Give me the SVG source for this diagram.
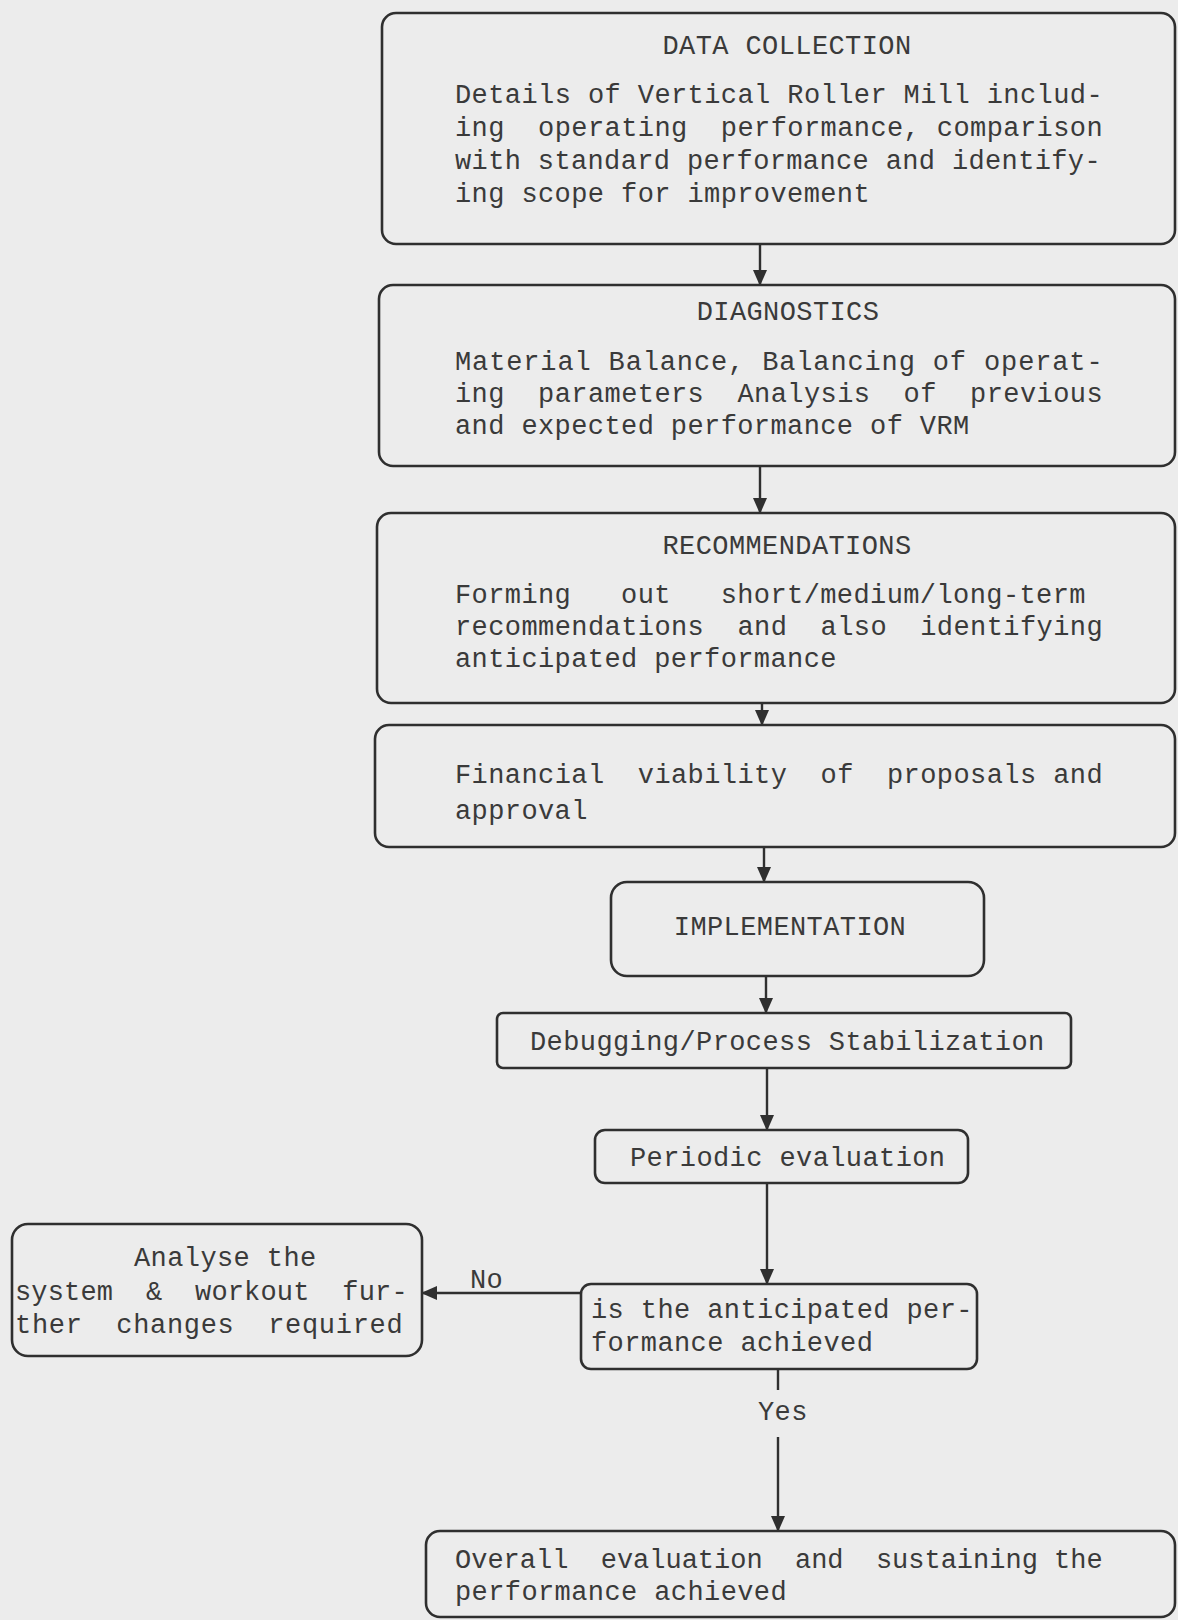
<svg xmlns="http://www.w3.org/2000/svg" width="1178" height="1620" viewBox="0 0 1178 1620">
<style>
.bg{fill:#ececec}
.box{fill:none;stroke:#2f2f2f;stroke-width:2.6}
.ln{fill:none;stroke:#2f2f2f;stroke-width:2.4}
text{font-family:"Liberation Mono","DejaVu Sans Mono",monospace;font-size:27px;fill:#3a3a3a;letter-spacing:0.4px;white-space:pre}
.t{text-anchor:middle}
</style>
<defs>
<marker id="ah" markerUnits="userSpaceOnUse" markerWidth="16" markerHeight="14" viewBox="0 0 16 14" refX="15" refY="7" orient="auto">
<path d="M0,0 L16,7 L0,14 z" fill="#2f2f2f"/>
</marker>
</defs>
<rect class="bg" x="0" y="0" width="1178" height="1620"/>
<g id="connectors">
<line class="ln" x1="760" y1="244" x2="760" y2="285" marker-end="url(#ah)"/>
<line class="ln" x1="760" y1="466" x2="760" y2="513" marker-end="url(#ah)"/>
<line class="ln" x1="762" y1="703" x2="762" y2="725" marker-end="url(#ah)"/>
<line class="ln" x1="764" y1="847" x2="764" y2="882" marker-end="url(#ah)"/>
<line class="ln" x1="766" y1="976" x2="766" y2="1013" marker-end="url(#ah)"/>
<line class="ln" x1="767" y1="1068" x2="767" y2="1130" marker-end="url(#ah)"/>
<line class="ln" x1="767" y1="1183" x2="767" y2="1284" marker-end="url(#ah)"/>
<line class="ln" x1="581" y1="1293" x2="422" y2="1293" marker-end="url(#ah)"/>
<text x="470" y="1288">No</text>
<line class="ln" x1="778" y1="1369" x2="778" y2="1390"/>
<text x="758" y="1420">Yes</text>
<line class="ln" x1="778" y1="1437" x2="778" y2="1531" marker-end="url(#ah)"/>
</g>
<g id="data-collection">
<rect class="box" x="382" y="13" width="793" height="231" rx="14"/>
<text class="t" x="787" y="54">DATA COLLECTION</text>
<text x="455" y="103" textLength="648" lengthAdjust="spacing">Details of Vertical Roller Mill includ-</text>
<text x="455" y="136" textLength="648" lengthAdjust="spacing">ing  operating  performance, comparison</text>
<text x="455" y="169" textLength="646" lengthAdjust="spacing">with standard performance and identify-</text>
<text x="455" y="202">ing scope for improvement</text>
</g>
<g id="diagnostics">
<rect class="box" x="379" y="285" width="796" height="181" rx="14"/>
<text class="t" x="788" y="320">DIAGNOSTICS</text>
<text x="455" y="370" textLength="648" lengthAdjust="spacing">Material Balance, Balancing of operat-</text>
<text x="455" y="402" textLength="648" lengthAdjust="spacing">ing  parameters  Analysis  of  previous</text>
<text x="455" y="434">and expected performance of VRM</text>
</g>
<g id="recommendations">
<rect class="box" x="377" y="513" width="798" height="190" rx="14"/>
<text class="t" x="787" y="554">RECOMMENDATIONS</text>
<text x="455" y="603">Forming   out   short/medium/long-term</text>
<text x="455" y="635" textLength="648" lengthAdjust="spacing">recommendations  and  also  identifying</text>
<text x="455" y="667">anticipated performance</text>
</g>
<g id="financial">
<rect class="box" x="375" y="725" width="800" height="122" rx="14"/>
<text x="455" y="783" textLength="648" lengthAdjust="spacing">Financial  viability  of  proposals and</text>
<text x="455" y="819">approval</text>
</g>
<g id="implementation">
<rect class="box" x="611" y="882" width="373" height="94" rx="16"/>
<text class="t" x="790" y="935">IMPLEMENTATION</text>
</g>
<g id="debugging">
<rect class="box" x="497" y="1013" width="574" height="55" rx="6"/>
<text x="530" y="1050">Debugging/Process Stabilization</text>
</g>
<g id="periodic">
<rect class="box" x="595" y="1130" width="373" height="53" rx="10"/>
<text x="630" y="1166">Periodic evaluation</text>
</g>
<g id="decision">
<rect class="box" x="581" y="1284" width="396" height="85" rx="10"/>
<text x="591" y="1318">is the anticipated per-</text>
<text x="591" y="1351">formance achieved</text>
</g>
<g id="analyse">
<rect class="box" x="12" y="1224" width="410" height="132" rx="16"/>
<text x="134" y="1266">Analyse the</text>
<text x="15" y="1300" textLength="393" lengthAdjust="spacing">system  &amp;  workout  fur-</text>
<text x="15" y="1333" textLength="388" lengthAdjust="spacing">ther  changes  required</text>
</g>
<g id="overall">
<rect class="box" x="426" y="1531" width="749" height="86" rx="14"/>
<text x="455" y="1568" textLength="648" lengthAdjust="spacing">Overall  evaluation  and  sustaining the</text>
<text x="455" y="1600">performance achieved</text>
</g>
</svg>
